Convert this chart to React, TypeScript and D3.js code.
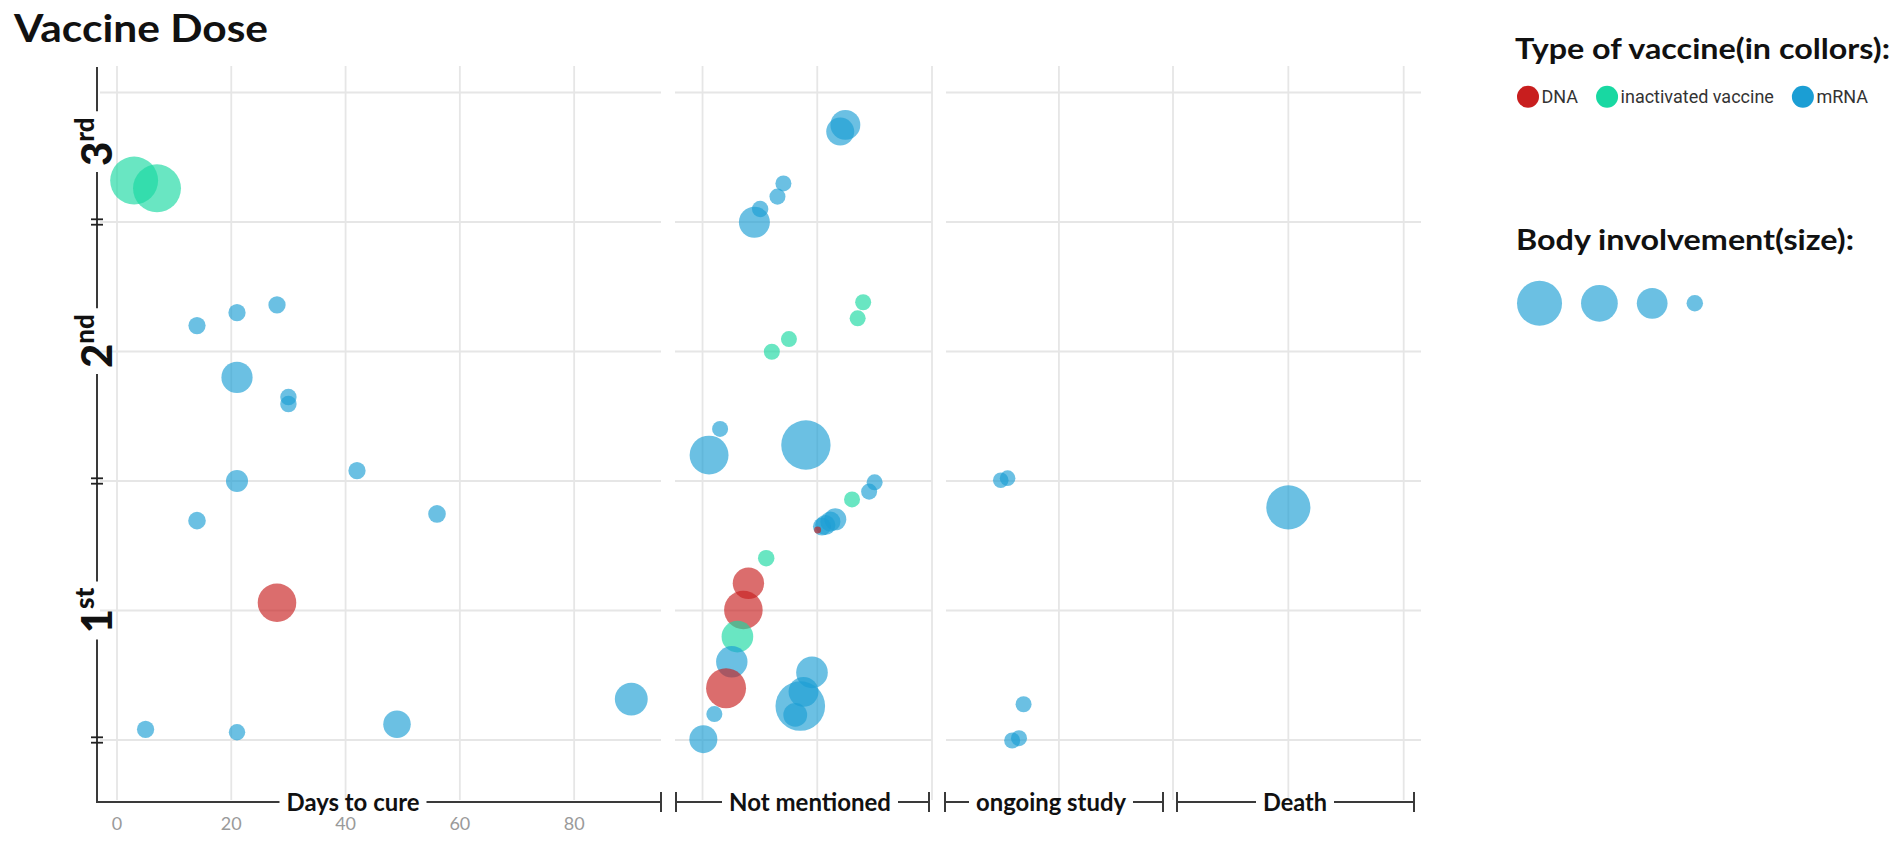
import React, { useEffect, useRef } from 'react';
import * as d3 from 'd3';

type Vaccine = 'DNA' | 'inactivated vaccine' | 'mRNA';
// [x, dose position, body involvement %, vaccine]
type Case = [number, number, number, Vaccine];

// days to cure (x = days)
const curedCases: Case[] = [
  [3, 2.66, 85, 'inactivated vaccine'],
  [7, 2.63, 85, 'inactivated vaccine'],
  [14, 2.10, 11, 'mRNA'],
  [21, 2.15, 11, 'mRNA'],
  [28, 2.18, 11, 'mRNA'],
  [21, 1.90, 36, 'mRNA'],
  [30, 1.824, 10, 'mRNA'],
  [30, 1.797, 10, 'mRNA'],
  [21, 1.50, 18, 'mRNA'],
  [42, 1.54, 11, 'mRNA'],
  [14, 1.347, 11.5, 'mRNA'],
  [56, 1.373, 11.5, 'mRNA'],
  [28, 1.03, 55, 'DNA'],
  [5, 0.541, 11, 'mRNA'],
  [21, 0.530, 10, 'mRNA'],
  [49, 0.561, 28, 'mRNA'],
  [90, 0.658, 40, 'mRNA'],
];

// outcome not mentioned (x = jitter inside the band)
const notMentionedCases: Case[] = [
  [0.245, 2.875, 33, 'mRNA'],
  [0.20, 2.849, 29, 'mRNA'],
  [-0.295, 2.649, 9.5, 'mRNA'],
  [-0.347, 2.598, 9.5, 'mRNA'],
  [-0.498, 2.550, 10, 'mRNA'],
  [-0.548, 2.499, 35.5, 'mRNA'],
  [0.40, 2.190, 9.5, 'inactivated vaccine'],
  [0.352, 2.128, 9.5, 'inactivated vaccine'],
  [-0.247, 2.048, 9.5, 'inactivated vaccine'],
  [-0.396, 1.999, 9.5, 'inactivated vaccine'],
  [-0.847, 1.701, 9.5, 'mRNA'],
  [-0.943, 1.600, 56, 'mRNA'],
  [-0.099, 1.639, 90, 'mRNA'],
  [0.50, 1.495, 9.5, 'mRNA'],
  [0.452, 1.459, 9.5, 'mRNA'],
  [0.303, 1.429, 9.5, 'inactivated vaccine'],
  [0.157, 1.352, 18, 'mRNA'],
  [0.114, 1.343, 15, 'mRNA'],
  [0.07, 1.330, 15, 'mRNA'],
  [0.041, 1.324, 12, 'mRNA'],
  [0.003, 1.311, 1.8, 'DNA'],
  [-0.445, 1.202, 10, 'inactivated vaccine'],
  [-0.60, 1.105, 36.5, 'DNA'],
  [-0.644, 1.002, 55, 'DNA'],
  [-0.696, 0.899, 37, 'inactivated vaccine'],
  [-0.745, 0.802, 36.5, 'mRNA'],
  [-0.795, 0.700, 59, 'DNA'],
  [-0.897, 0.600, 9.5, 'mRNA'],
  [-0.993, 0.503, 29, 'mRNA'],
  [-0.046, 0.761, 37, 'mRNA'],
  [-0.12, 0.686, 33, 'mRNA'],
  [-0.148, 0.631, 91, 'mRNA'],
  [-0.192, 0.597, 21, 'mRNA'],
];

const ongoingCases: Case[] = [
  [-0.51, 1.503, 9, 'mRNA'],
  [-0.45, 1.511, 9, 'mRNA'],
  [-0.31, 0.638, 9.5, 'mRNA'],
  [-0.41, 0.498, 9.5, 'mRNA'],
  [-0.35, 0.507, 9.5, 'mRNA'],
];

const deathCases: Case[] = [
  [0, 1.398, 72, 'mRNA'],
];

const vaccineTypes: Vaccine[] = ['DNA', 'inactivated vaccine', 'mRNA'];
const vaccineColors = ['#c81e1e', '#18d8a2', '#1b9ed4'];
const dayTicks = [0, 20, 40, 60, 80];
const doseGrid = [0.5, 1, 1.5, 2, 2.5, 3];
const doseBreaks = [0.5, 1.5, 2.5];
const doseLabels = [
  { n: '1', sup: 'st', at: 1.0 },
  { n: '2', sup: 'nd', at: 2.04 },
  { n: '3', sup: 'rd', at: 2.81 },
];
const sizeLegend = [75, 50, 35, 10];

const panels = [
  { name: 'Days to cure', data: curedCases, domain: [-3.5, 95.2], range: [97, 661], grid: dayTicks, axis: [97, 661], label: 353, lw: 133, startTick: false },
  { name: 'Not mentioned', data: notMentionedCases, domain: [-1.24, 1.0], range: [675, 932], grid: [-1, 0, 1], axis: [676, 929], label: 810, lw: 162, startTick: true },
  { name: 'ongoing study', data: ongoingCases, domain: [-0.99, 1.0], range: [946, 1173], grid: [0, 1], axis: [945, 1163], label: 1051, lw: 150, startTick: true },
  { name: 'Death', data: deathCases, domain: [-1, 1.15], range: [1173, 1421], grid: [0, 1], axis: [1177, 1414], label: 1295, lw: 64, startTick: true },
];

const GOTHIC = 'Lato, "Open Sans", sans-serif';

const App: React.FC = () => {
  const svgRef = useRef<SVGSVGElement | null>(null);

  useEffect(() => {
    if (!svgRef.current) return;
    const svg = d3.select(svgRef.current);
    svg.selectAll('*').remove();

    const axisX = 97;
    const axisY = 802;
    const top = 66;

    const y = d3.scaleLinear().domain([0.5, 3]).range([740, 92.5]);
    const r = d3.scaleSqrt().domain([0, 100]).range([0, 26]);
    const color = d3.scaleOrdinal<string, string>().domain(vaccineTypes).range(vaccineColors);

    // title
    svg.append('text')
      .attr('x', 14).attr('y', 42)
      .attr('font-family', GOTHIC).attr('font-weight', 700).attr('font-size', 38)
      .attr('textLength', 254).attr('lengthAdjust', 'spacingAndGlyphs')
      .attr('fill', '#111')
      .text('Vaccine Dose');

    // grid
    const grid = svg.append('g').attr('stroke', '#e6e6e6').attr('stroke-width', 1.8);
    panels.forEach((p, i) => {
      const x = d3.scaleLinear().domain(p.domain).range(p.range);
      const x0 = i === 0 ? axisX + 3 : p.range[0];
      doseGrid.forEach(v => {
        grid.append('line').attr('x1', x0).attr('x2', p.range[1]).attr('y1', y(v)).attr('y2', y(v));
      });
      p.grid.forEach(t => {
        grid.append('line').attr('x1', x(t)).attr('x2', x(t)).attr('y1', top).attr('y2', axisY - 2);
      });
    });

    // points
    panels.forEach(p => {
      const x = d3.scaleLinear().domain(p.domain).range(p.range);
      svg.append('g').selectAll('circle')
        .data(p.data)
        .join('circle')
        .attr('cx', d => x(d[0]))
        .attr('cy', d => y(d[1]))
        .attr('r', d => r(d[2]))
        .attr('fill', d => color(d[3]))
        .attr('fill-opacity', 0.65);
    });

    // day tick labels
    const xDays = d3.scaleLinear().domain(panels[0].domain).range(panels[0].range);
    svg.append('g').selectAll('text')
      .data(dayTicks)
      .join('text')
      .attr('x', d => xDays(d)).attr('y', 830)
      .attr('text-anchor', 'middle')
      .attr('font-family', GOTHIC).attr('font-size', 18).attr('fill', '#9a9a9a')
      .text(d => d);

    const axisStroke = '#3a3a3a';

    // left axis with rotated dose labels
    const left = svg.append('g');
    const gaps: [number, number][] = [];
    doseLabels.forEach(l => {
      const g = left.append('g').attr('transform', `translate(${axisX},${y(l.at)}) rotate(-90)`);
      const t = g.append('text')
        .attr('x', 0).attr('y', 15)
        .attr('text-anchor', 'middle')
        .attr('font-family', GOTHIC).attr('font-weight', 900).attr('font-size', 42)
        .attr('fill', '#111');
      t.append('tspan').text(l.n);
      t.append('tspan').attr('dy', -18).attr('font-size', 26).text(l.sup);
      const len = (t.node() as SVGTextElement).getBBox().width;
      gaps.push([y(l.at) - len / 2 - 6, y(l.at) + len / 2 + 6]);
    });
    gaps.sort((a, b) => a[0] - b[0]);
    let cur = top + 1;
    gaps.forEach(([g0, g1]) => {
      left.append('line').attr('x1', axisX).attr('x2', axisX).attr('y1', cur).attr('y2', g0)
        .attr('stroke', axisStroke).attr('stroke-width', 2);
      cur = g1;
    });
    left.append('line').attr('x1', axisX).attr('x2', axisX).attr('y1', cur).attr('y2', axisY + 1)
      .attr('stroke', axisStroke).attr('stroke-width', 2);
    doseBreaks.forEach(v => {
      [-2.7, 2.7].forEach(o => {
        left.append('line')
          .attr('x1', axisX - 6).attr('x2', axisX + 6)
          .attr('y1', y(v) + o).attr('y2', y(v) + o)
          .attr('stroke', '#222').attr('stroke-width', 1.8);
      });
    });

    // bottom axis, one segment per outcome
    const bottom = svg.append('g');
    panels.forEach(p => {
      const half = p.lw / 2 + 7;
      const [a0, a1] = p.axis;
      bottom.append('line').attr('x1', a0).attr('x2', p.label - half).attr('y1', axisY).attr('y2', axisY)
        .attr('stroke', axisStroke).attr('stroke-width', 2);
      bottom.append('line').attr('x1', p.label + half).attr('x2', a1).attr('y1', axisY).attr('y2', axisY)
        .attr('stroke', axisStroke).attr('stroke-width', 2);
      const ticks = p.startTick ? [a0, a1] : [a1];
      ticks.forEach(tx => {
        bottom.append('line').attr('x1', tx).attr('x2', tx).attr('y1', axisY - 10).attr('y2', axisY + 10)
          .attr('stroke', axisStroke).attr('stroke-width', 2);
      });
      bottom.append('text')
        .attr('x', p.label).attr('y', axisY + 8.5)
        .attr('text-anchor', 'middle')
        .attr('font-family', GOTHIC).attr('font-weight', 700).attr('font-size', 24)
        .attr('textLength', p.lw).attr('lengthAdjust', 'spacingAndGlyphs')
        .attr('fill', '#111')
        .text(p.name);
    });

    // legend: colours
    const legend = svg.append('g');
    legend.append('text')
      .attr('x', 1515).attr('y', 58.5)
      .attr('font-family', GOTHIC).attr('font-weight', 700).attr('font-size', 28)
      .attr('textLength', 375).attr('lengthAdjust', 'spacingAndGlyphs')
      .attr('fill', '#111')
      .text('Type of vaccine(in collors):');
    let lx = 1528;
    vaccineTypes.forEach(v => {
      legend.append('circle').attr('cx', lx).attr('cy', 96.7).attr('r', 11).attr('fill', color(v));
      const t = legend.append('text')
        .attr('x', lx + 13.5).attr('y', 103.3)
        .attr('font-family', 'Roboto, sans-serif').attr('font-size', 18)
        .attr('fill', '#333')
        .text(v);
      lx += 13.5 + (t.node() as SVGTextElement).getComputedTextLength() + 29;
    });

    // legend: sizes
    legend.append('text')
      .attr('x', 1516).attr('y', 250)
      .attr('font-family', GOTHIC).attr('font-weight', 700).attr('font-size', 28)
      .attr('textLength', 338).attr('lengthAdjust', 'spacingAndGlyphs')
      .attr('fill', '#111')
      .text('Body involvement(size):');
    let sx = 1517;
    sizeLegend.forEach(s => {
      const rr = r(s);
      sx += rr;
      legend.append('circle').attr('cx', sx).attr('cy', 303.3).attr('r', rr)
        .attr('fill', color('mRNA')).attr('fill-opacity', 0.65);
      sx += rr + 19;
    });
  }, []);

  return (
    <svg
      ref={svgRef}
      width={1902}
      height={842}
      style={{ position: 'absolute', left: 0, top: 0, display: 'block', background: '#fff' }}
    />
  );
};

export default App;
